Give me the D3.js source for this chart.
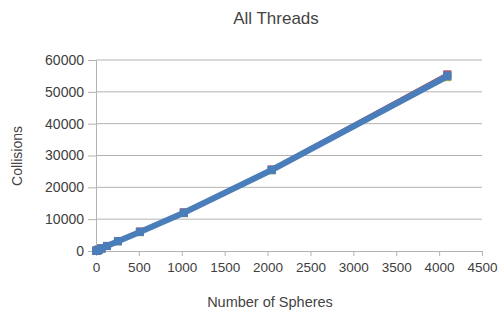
<!DOCTYPE html>
<html>
<head>
<meta charset="utf-8">
<script src="https://cdn.jsdelivr.net/npm/d3@7"></script>
<style>
  body { margin: 0; background: #fff; }
  text { font-family: "Liberation Sans", Arial, sans-serif; fill: #444; }
</style>
</head>
<body>
<svg width="500" height="315"></svg>
<script>
// sphere counts and collisions per thread count
var spheres = [4, 8, 16, 32, 64, 128, 256, 512, 1024, 2048, 4096];
var seriesNames = ["1 thread", "2 threads", "4 threads", "8 threads"];
var collisions1 = [60, 110, 210, 420, 820, 1600, 3150, 6100, 12150, 25600, 55500];
var collisions2 = [30, 80, 180, 380, 770, 1520, 3020, 5900, 11850, 25300, 54600];
var collisions3 = [50, 100, 200, 400, 800, 1580, 3100, 6050, 12050, 25550, 55300];
var collisions4 = [50, 100, 200, 400, 800, 1570, 3090, 6000, 12000, 25450, 54900];
var colors = ["#c0504d", "#9bbb59", "#8064a2", "#4a7ebb"];
var xTicks = [0, 500, 1000, 1500, 2000, 2500, 3000, 3500, 4000, 4500];
var yTicks = [0, 10000, 20000, 30000, 40000, 50000, 60000];

var allSeries = [collisions1, collisions2, collisions3, collisions4];

var svg = d3.select("svg");
var x = d3.scaleLinear().domain([0, 4500]).range([96, 482]);
var y = d3.scaleLinear().domain([0, 60000]).range([251, 60]);

// grid
svg.append("g").selectAll("line").data(yTicks.slice(1)).enter().append("line")
  .attr("x1", x(0)).attr("x2", x(4500))
  .attr("y1", d => y(d)).attr("y2", d => y(d))
  .style("stroke", "#b3b3b3").style("stroke-width", 1);

var yAxis = svg.append("g").attr("transform", "translate(" + x(0) + ",0)")
  .call(d3.axisLeft(y).tickValues(yTicks).tickSize(8).tickPadding(4).tickFormat(d3.format("d")));
var xAxis = svg.append("g").attr("transform", "translate(0," + y(0) + ")")
  .call(d3.axisBottom(x).tickValues(xTicks).tickSize(5).tickPadding(6).tickFormat(d3.format("d")));
[yAxis, xAxis].forEach(a => {
  a.select(".domain").style("stroke", "#b3b3b3");
  a.selectAll(".tick line").style("stroke", "#b3b3b3");
  a.selectAll("text").style("font-size", "13.5px").style("fill", "#404040");
});
yAxis.selectAll("text").style("font-size", "14px");

var line = d3.line().x((d, i) => x(spheres[i])).y(d => y(d));

allSeries.forEach((s, k) => {
  var g = svg.append("g");
  g.append("path").datum(s).attr("d", line)
    .style("fill", "none").style("stroke", colors[k]).style("stroke-width", k === 3 ? 6 : 4);
  g.selectAll("rect").data(s).enter().append("rect")
    .attr("x", (d, i) => x(spheres[i]) - 4).attr("y", d => y(d) - 4)
    .attr("width", 8).attr("height", 8)
    .style("fill", colors[k]);
});

svg.append("text").attr("x", 276).attr("y", 24).attr("text-anchor", "middle")
  .style("font-size", "17px").text("All Threads");
svg.append("text").attr("x", 270).attr("y", 307).attr("text-anchor", "middle")
  .style("font-size", "14.5px").text("Number of Spheres");
svg.append("text").attr("transform", "translate(22,156) rotate(-90)").attr("text-anchor", "middle")
  .style("font-size", "14px").text("Collisions");
</script>
</body>
</html>
